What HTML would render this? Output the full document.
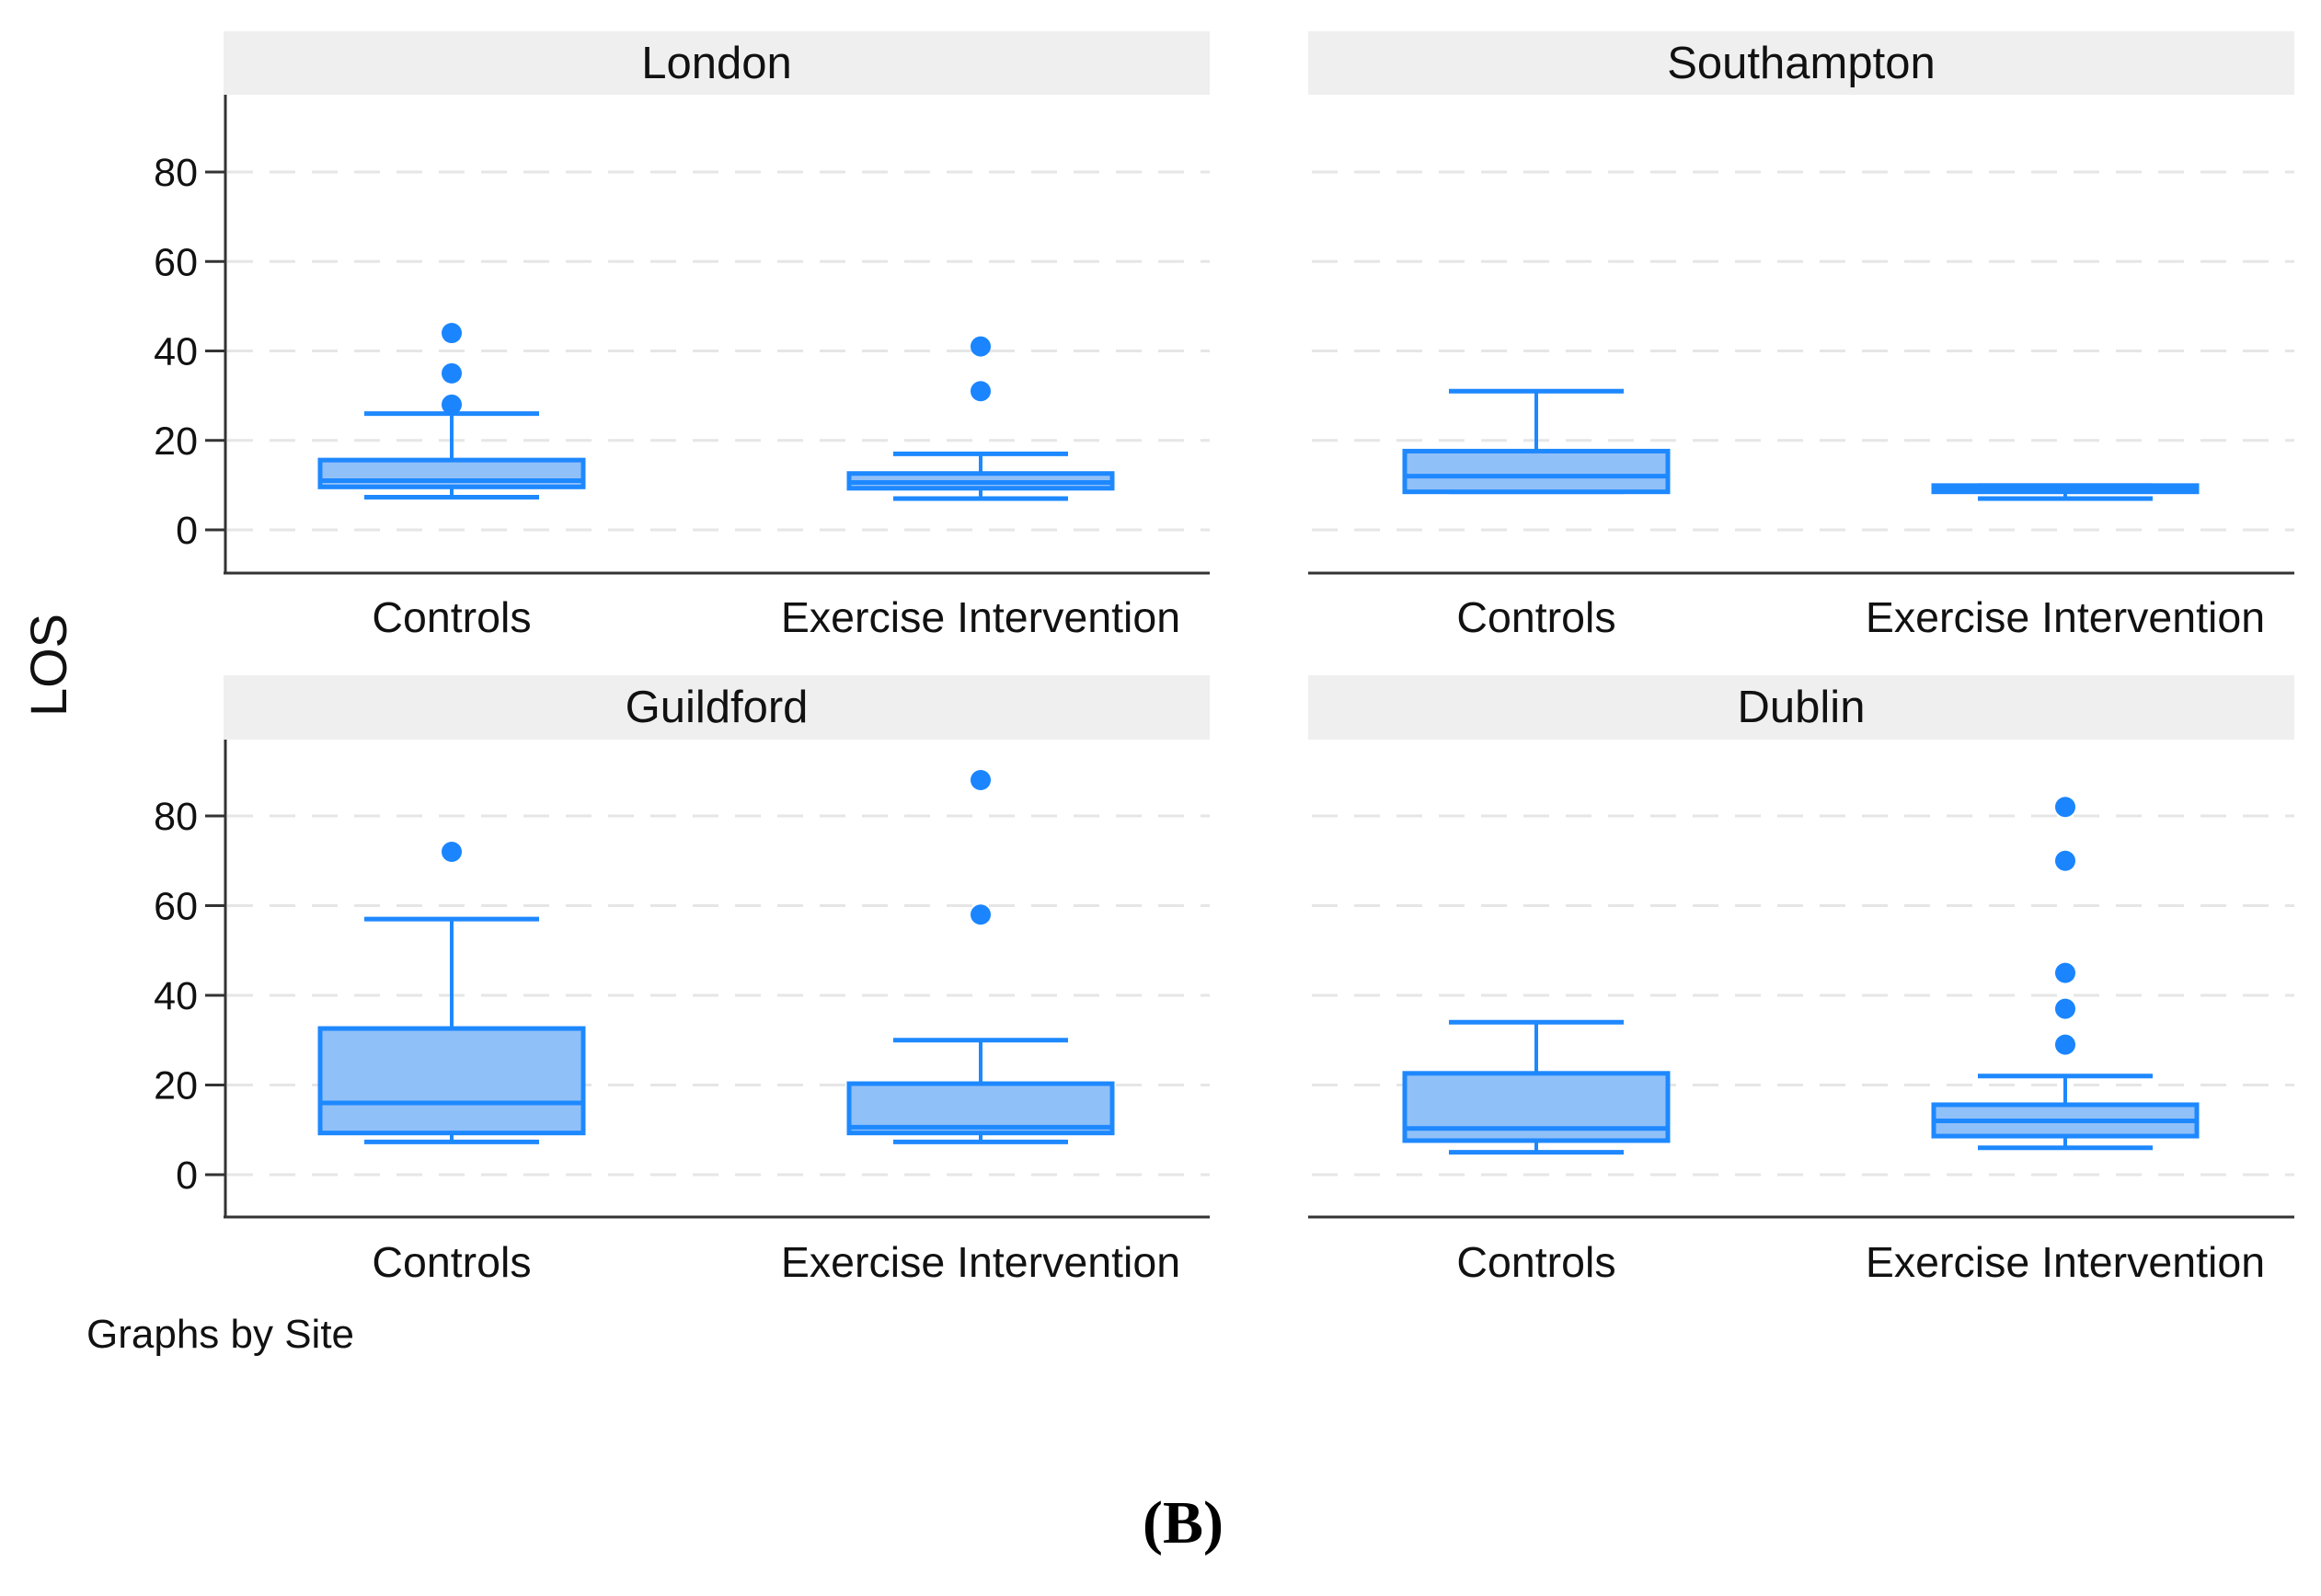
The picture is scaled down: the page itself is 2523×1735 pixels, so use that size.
<!DOCTYPE html>
<html><head><meta charset="utf-8"><style>
html,body{margin:0;padding:0;background:#fff;}
svg{display:block;font-family:"Liberation Sans",Arial,sans-serif;}
</style></head><body>
<svg id="chart" width="2523" height="1735" viewBox="0 0 2523 1735"></svg>
<script>
const sites = ["London","Southampton","Guildford","Dublin"];
const groups = ["Controls","Exercise Intervention"];
const yTicks = [0,20,40,60,80];
// [low whisker, q1, median, q3, high whisker]
const londonStats = [[7.3,9.6,11,15.6,26],[7,9.3,10.6,12.6,17]];
const southamptonStats = [[8.5,8.5,12,17.6,31],[7,8.5,9.2,9.9,9.9]];
const guildfordStats = [[7.3,9.3,16,32.6,57],[7.3,9.3,10.6,20.3,30]];
const dublinStats = [[5,7.6,10.3,22.6,34],[6,8.6,12,15.6,22]];
const londonOut = [[44,35,28],[41,31]];
const southamptonOut = [[],[]];
const guildfordOut = [[72],[88,58]];
const dublinOut = [[],[82,70,45,37,29]];

const statsAll=[londonStats,southamptonStats,guildfordStats,dublinStats];
const outAll=[londonOut,southamptonOut,guildfordOut,dublinOut];
const NS="http://www.w3.org/2000/svg";
const svg=document.getElementById('chart');
function mk(tag,attrs,parent){const e=document.createElementNS(NS,tag);for(const k in attrs)e.setAttribute(k,attrs[k]);(parent||svg).appendChild(e);return e;}

const panelX=[243,1422], panelW=1072;
const rows=[{stripTop:34,stripBot:103,y0:576,y80:187,axis:623,lab:672},
            {stripTop:734,stripBot:804,y0:1277,y80:887,axis:1323,lab:1373}];
const boxHalf=143, capHalf=95, stroke="#1e88ff", fill="#90c0f8";

sites.forEach((site,i)=>{
  const px=panelX[i%2], r=rows[Math.floor(i/2)];
  const g=mk('g',{});
  
  
  const yS=v=>r.y0+(r.y80-r.y0)*v/80;
  const xS=k=>px+(k===0?248:823);
  const strip=mk('rect',{x:px,y:r.stripTop,width:panelW,height:r.stripBot-r.stripTop,fill:'#efefef'},g);
  
  
  const st=mk('text',{x:px+panelW/2,y:r.stripTop+51,'text-anchor':'middle','font-size':49,fill:'#111'},g);
  st.textContent=site;
  
  
  yTicks.forEach(t=>{
    const gl=mk('line',{x1:px+4,x2:px+panelW,y1:yS(t),y2:yS(t),stroke:'#e6e6e6','stroke-width':3,'stroke-dasharray':'28 18'},g);
    
    
    if(i%2===0){
      mk('line',{x1:px-20,x2:px+2,y1:yS(t),y2:yS(t),stroke:'#333','stroke-width':3},g);
      const tl=mk('text',{x:px-28,y:yS(t)+15,'text-anchor':'end','font-size':43,fill:'#111'},g);
      tl.textContent=t;
      
      
    }
  });
  if(i%2===0){
    const ya=mk('line',{x1:px+2,x2:px+2,y1:r.stripBot,y2:r.axis,stroke:'#333','stroke-width':3},g);
    
    
  }
  const xa=mk('line',{x1:px,x2:px+panelW,y1:r.axis,y2:r.axis,stroke:'#333','stroke-width':3},g);
  
  
  groups.forEach((grp,k)=>{
    const s=statsAll[i][k], cx=xS(k);
    const bg=mk('g',{},g);
    
    
    mk('line',{x1:cx,x2:cx,y1:yS(s[3]),y2:yS(s[4]),stroke:stroke,'stroke-width':4},bg);
    mk('line',{x1:cx,x2:cx,y1:yS(s[0]),y2:yS(s[1]),stroke:stroke,'stroke-width':4},bg);
    mk('line',{x1:cx-capHalf,x2:cx+capHalf,y1:yS(s[4]),y2:yS(s[4]),stroke:stroke,'stroke-width':5},bg);
    mk('line',{x1:cx-capHalf,x2:cx+capHalf,y1:yS(s[0]),y2:yS(s[0]),stroke:stroke,'stroke-width':5},bg);
    mk('rect',{x:cx-boxHalf,y:yS(s[3]),width:2*boxHalf,height:Math.max(1,yS(s[1])-yS(s[3])),fill:fill,stroke:stroke,'stroke-width':5},bg);
    mk('line',{x1:cx-boxHalf,x2:cx+boxHalf,y1:yS(s[2]),y2:yS(s[2]),stroke:stroke,'stroke-width':5},bg);
    outAll[i][k].forEach(v=>{
      const c=mk('circle',{cx:cx,cy:yS(v),r:11,fill:'#1a85ff'},g);
      
      
    });
    const xl=mk('text',{x:cx,y:r.lab+15,'text-anchor':'middle','font-size':46.5,fill:'#111'},g);
    xl.textContent=grp;
    
    
  });
});
const yt=mk('text',{x:72,y:723,'text-anchor':'middle','font-size':56,fill:'#111',transform:'rotate(-90 72 723)'});
yt.textContent='LOS';


const note=mk('text',{x:94,y:1465,'font-size':44,fill:'#111'});
note.textContent='Graphs by Site';


const cap=mk('text',{x:1286,y:1677,'text-anchor':'middle','font-size':66,'font-weight':'bold','font-family':'"Liberation Serif",serif',fill:'#000'});
cap.textContent='(B)';


</script>
</body></html>
